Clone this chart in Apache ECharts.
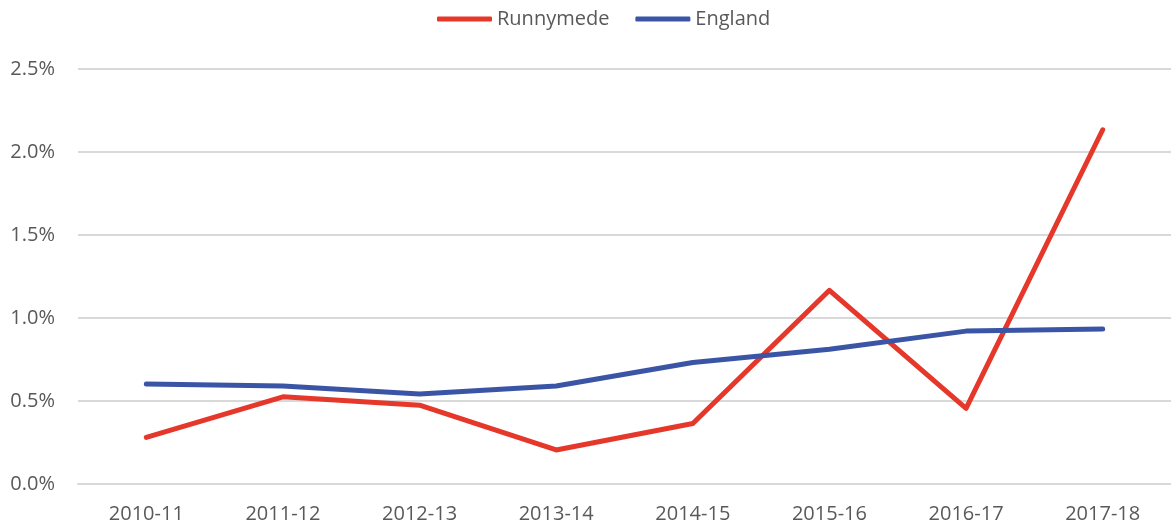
<!DOCTYPE html>
<html>
<head>
<meta charset="utf-8">
<script src="https://cdn.jsdelivr.net/npm/echarts@6/dist/echarts.min.js"></script>
<style>
  html, body { margin: 0; padding: 0; background: #fff; }
  #chart { width: 1171px; height: 529px; }
</style>
</head>
<body>
<div id="chart"></div>
<script>
// 数据
const years = ['2010-11', '2011-12', '2012-13', '2013-14', '2014-15', '2015-16', '2016-17', '2017-18'];
const runnymede = [0.281, 0.525, 0.475, 0.205, 0.364, 1.167, 0.455, 2.134];
const england = [0.602, 0.591, 0.542, 0.590, 0.732, 0.812, 0.921, 0.933];
const yTicks = [0, 0.5, 1.0, 1.5, 2.0, 2.5];

const chart = echarts.init(document.getElementById('chart'));
const font = '"Open Sans", "Noto Sans", sans-serif';

const option = {
  animation: false,
  textStyle: { fontFamily: font },
  legend: {
    top: 4,
    left: 432,
    itemWidth: 55,
    itemHeight: 5,
    itemGap: 26,
    icon: 'roundRect',
    textStyle: { fontSize: 20, color: '#595959', fontFamily: font },
    data: ['Runnymede', 'England']
  },
  grid: {
    top: 69,
    left: 78,
    right: -6,
    bottom: 45,
    containLabel: false
  },
  xAxis: {
    type: 'category',
    data: years,
    boundaryGap: true,
    axisLine: { show: true, lineStyle: { color: '#d9d9d9', width: 2 } },
    axisTick: { show: false },
    axisLabel: { fontSize: 20, color: '#595959', margin: 20, fontFamily: font }
  },
  yAxis: {
    type: 'value',
    min: yTicks[0],
    max: yTicks[yTicks.length - 1],
    interval: 0.5,
    axisLine: { show: false },
    axisTick: { show: false },
    splitLine: { lineStyle: { color: '#d9d9d9', width: 2 } },
    axisLabel: {
      fontSize: 20,
      color: '#595959',
      margin: 23,
      fontFamily: font,
      formatter: v => v.toFixed(1) + '%'
    }
  },
  series: [{
    name: 'Runnymede',
    type: 'line',
    data: runnymede,
    showSymbol: false,
    symbol: 'none',
    lineStyle: { color: '#e5372a', width: 5, cap: 'round', join: 'round' },
    itemStyle: { color: '#e5372a' }
  }, {
    name: 'England',
    type: 'line',
    data: england,
    showSymbol: false,
    symbol: 'none',
    lineStyle: { color: '#3a55a5', width: 5, cap: 'round', join: 'round' },
    itemStyle: { color: '#3a55a5' }
  }]
};

chart.setOption(option);
</script>
</body>
</html>
